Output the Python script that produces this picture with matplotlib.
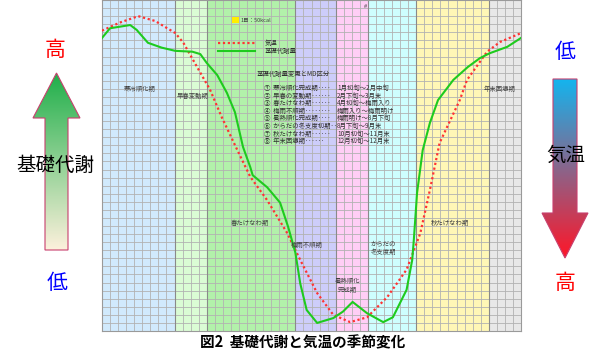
import numpy as np
import matplotlib.pyplot as plt
from matplotlib.patches import Polygon, Rectangle

plt.rcParams['font.family'] = ['Noto Sans CJK JP', 'DejaVu Sans']

# 季節区分（週）
band_edges = [0, 9, 13, 24, 29, 33, 39, 48, 52]
band_colors = ['#d1eafd', '#dafcd4', '#b2f1aa', '#cdcdfa', '#ffcef6',
               '#cefefe', '#fff7b6', '#e8e8e8']

# 気温（上下反転, 1目盛=1マス）
temp_w = [0.0, 2.2, 4.5, 6.6, 8.1, 9.1, 10.1, 11.8, 13.4, 14.9, 16.8, 18.4,
          20.5, 23.0, 24.6, 26.7, 28.7, 30.8, 32.9, 35.4, 37.8, 39.5, 40.7,
          41.9, 44.4, 45.3, 47.8, 49.4, 52.0]
temp_v = [37.2, 38.2, 39.0, 38.4, 37.5, 36.9, 35.7, 32.7, 29.9, 26.4, 22.4,
          19.1, 16.2, 12.1, 8.8, 4.7, 2.0, 1.1, 1.7, 4.2, 7.6, 12.1, 17.5,
          23.3, 28.6, 31.1, 34.6, 35.8, 36.9]

# 基礎代謝量
bmr_w = [0.0, 1.0, 3.5, 4.3, 5.7, 7.4, 9.1, 11.2, 12.2, 13.0, 14.3, 15.5,
         16.5, 17.5, 18.4, 18.7, 20.5, 22.1, 23.1, 24.0, 24.6, 25.4, 26.7,
         28.7, 29.9, 31.1, 32.9, 34.9, 36.1, 37.8, 38.5, 38.7, 39.1, 39.8,
         40.7, 41.7, 43.6, 45.4, 46.9, 48.1, 50.3, 52.0]
bmr_v = [36.3, 37.5, 37.9, 37.3, 35.7, 35.1, 34.7, 34.6, 34.3, 33.2, 31.7,
         29.5, 27.1, 22.8, 20.3, 19.3, 17.8, 15.9, 12.9, 9.7, 5.9, 2.6, 1.0,
         1.6, 2.4, 3.6, 2.2, 1.1, 1.7, 5.1, 8.8, 11.3, 17.1, 22.4, 25.8,
         28.6, 31.1, 32.7, 33.8, 34.4, 35.2, 36.3]

band_labels = ['寒冷順化期', '早春変動期', '春たけなわ期', '梅雨不順期',
               '暑熱順化\n完成期', 'からだの\n冬支度期', '秋たけなわ期', '年末困憊期']
label_pos = [(4.7, 30.0), (11.2, 29.1), (18.4, 13.4), (25.4, 10.7),
             (30.5, 5.6), (34.9, 10.3), (43.2, 13.4), (49.3, 30.0)]

periods = ['①  寒冷順化完成期‥‥', '②  早春の変動期‥‥‥', '③  春たけなわ期‥‥‥',
           '④  梅雨不順期‥‥‥‥', '⑤  暑熱順化完成期‥‥', '⑥  からだの冬支度初期‥',
           '⑦  秋たけなわ期‥‥‥', '⑧  年末困憊期‥‥‥']
period_dates = ['1月初旬～2月中旬', '2月下旬～3月末', '4月初旬～梅雨入り',
                '梅雨入り～梅雨明け', '梅雨明け～8月下旬', '8月下旬～9月末',
                '10月初旬～11月末', '12月初旬～12月末']

RED = '#ff3333'
GREEN = '#1ecb1e'

fig = plt.figure(figsize=(6.0, 3.61), dpi=100)
ax = fig.add_axes([102/600, 1 - 331/361, 419/600, 331/361])

for i, c in enumerate(band_colors):
    ax.axvspan(band_edges[i], band_edges[i+1], color=c, zorder=0, lw=0)
ax.set_xlim(0, 52)
ax.set_ylim(0, 41)
ax.set_xticks(np.arange(0, 53))
ax.set_yticks(np.arange(0, 42))
ax.tick_params(length=0, labelbottom=False, labelleft=False)
ax.grid(True, color='#b2b2b2', lw=0.6, zorder=1)
ax.set_axisbelow(True)
for e in band_edges[1:-1]:
    ax.axvline(e, color='#8a8a8a', lw=0.8, zorder=1.5)
for s in ax.spines.values():
    s.set_color('#9a9a9a')
    s.set_linewidth(0.8)

ax.plot(temp_w, temp_v, color=RED, lw=1.6, ls=(0, (1, 1.2)), zorder=3)
ax.plot(bmr_w, bmr_v, color=GREEN, lw=1.5, zorder=4)

for lab, (x, y) in zip(band_labels, label_pos):
    ax.text(x, y, lab, fontsize=4.6, color='#404040', ha='center', va='center',
            linespacing=1.2, zorder=5)

# 全体用オーバーレイ（ピクセル座標）
ov = fig.add_axes([0, 0, 1, 1], zorder=10)
ov.set_xlim(0, 600)
ov.set_ylim(361, 0)
ov.axis('off')
ov.patch.set_alpha(0)

# 凡例
ov.add_patch(Rectangle((232, 17), 6.5, 6, color='#ffee00', lw=0))
ov.text(241, 20.5, '1目：50kcal', fontsize=4, color='#404040', va='center')
ov.plot([218, 255], [43, 43], color=RED, lw=1.6, ls=(0, (1, 1.2)))
ov.plot([218, 255], [51, 51], color=GREEN, lw=1.5)
ov.text(265, 43, '気温', fontsize=4.6, color='#303030', va='center')
ov.text(265, 51, '基礎代謝量', fontsize=4.6, color='#303030', va='center')
ov.text(257, 74, '基礎代謝量変更とMD区分', fontsize=4.6, color='#303030', va='center')
ov.text(364, 7, '#', fontsize=4, color='#404040', va='center')
for i, (p, d) in enumerate(zip(periods, period_dates)):
    y = 88 + i * 7.6
    ov.text(264, y, p, fontsize=4.6, color='#303030', va='center')
    ov.text(337, y, d, fontsize=4.6, color='#303030', va='center')


def grad_arrow(pts, top_col, bot_col, y0, y1):
    poly = Polygon(pts, closed=True, fc='none', ec='#c8406e', lw=0.8, zorder=12)
    ov.add_patch(poly)
    xs = [p[0] for p in pts]
    c0 = np.array(plt.matplotlib.colors.to_rgb(top_col))
    c1 = np.array(plt.matplotlib.colors.to_rgb(bot_col))
    t = np.linspace(0, 1, 200)[:, None]
    img = (c0 * (1 - t) + c1 * t)[:, None, :]
    im = ov.imshow(img, extent=(min(xs), max(xs), y1, y0), aspect='auto',
                   zorder=11, interpolation='bilinear')
    im.set_clip_path(poly)


# 左：基礎代謝 矢印（上向き）
grad_arrow([(56.5, 73), (80, 118), (68, 118), (68, 250), (45, 250), (45, 118), (33, 118)],
           '#1faf4a', '#fdf1dc', 73, 250)
# 右：気温 矢印（下向き）
grad_arrow([(553, 79), (577, 79), (577, 213), (588, 213), (565, 258), (542, 213), (553, 213)],
           '#14b4ee', '#ff1628', 79, 258)
ov.set_xlim(0, 600)
ov.set_ylim(361, 0)

ov.text(55, 50, '高', fontsize=15, color='#ff0000', ha='center', va='center')
ov.text(57, 283, '低', fontsize=15, color='#0000ff', ha='center', va='center')
ov.text(55, 165, '基礎代謝', fontsize=14, color='black', ha='center', va='center', zorder=13)
ov.text(565, 52, '低', fontsize=15, color='#0000ff', ha='center', va='center')
ov.text(566, 155, '気温', fontsize=14, color='black', ha='center', va='center', zorder=13)
ov.text(565, 283, '高', fontsize=15, color='#ff0000', ha='center', va='center')

ov.text(303, 342, '図2  基礎代謝と気温の季節変化', fontsize=10.5, fontweight='bold',
        color='black', ha='center', va='center')

fig.savefig('out.png', dpi=100)
